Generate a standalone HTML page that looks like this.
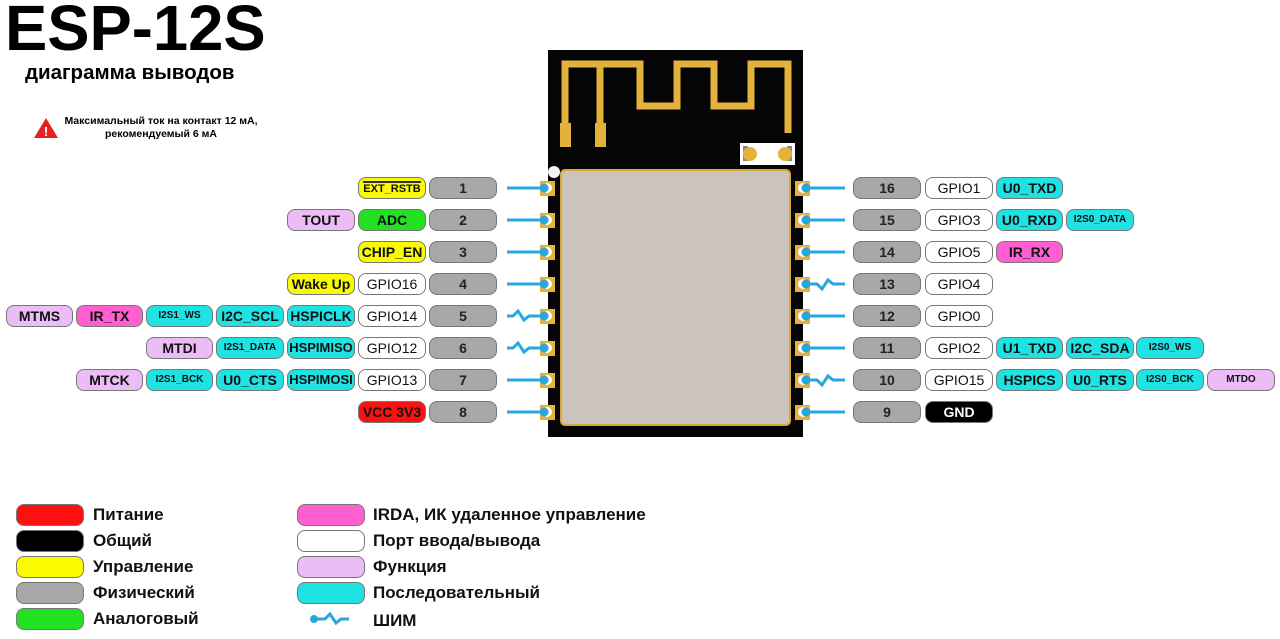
<!DOCTYPE html>
<html><head><meta charset="utf-8"><style>
body{margin:0;width:1280px;height:639px;background:#fff;position:relative;overflow:hidden;font-family:"Liberation Sans",sans-serif;}
.p{position:absolute;height:22px;border:1px solid #777;border-radius:8px;box-sizing:border-box;text-align:center;font-weight:bold;font-size:14px;line-height:20px;color:#111;white-space:nowrap;overflow:hidden;}
.g{background:#a8a8a8;color:#222}
.w{background:#fff}
.y{background:#fafa00}
.gr{background:#22e022}
.r{background:#ff1010}
.k{background:#000;color:#fff}
.c{background:#1fe3e3}
.m{background:#ff5fd0}
.l{background:#ebbcf5}
.s{font-size:10px}
.lt{position:absolute;font-weight:bold;font-size:17px;color:#111;}
</style></head><body>
<div style="position:absolute;left:5px;top:-9px;font-size:64px;font-weight:bold;transform:scaleX(0.99);transform-origin:left">ESP-12S</div>
<div style="position:absolute;left:25px;top:61px;font-size:20.5px;font-weight:bold">диаграмма выводов</div>
<svg style="position:absolute;left:33px;top:117px" width="26" height="22"><polygon points="13,1 25,21 1,21" fill="#e52020"/><text x="13" y="19" font-size="13" font-weight="bold" fill="#fff" text-anchor="middle" font-family="Liberation Sans">!</text></svg>
<div style="position:absolute;left:56px;top:115px;width:210px;text-align:center;font-size:10.5px;font-weight:bold;line-height:13px">Максимальный ток на контакт 12 мА,<br>рекомендуемый 6 мА</div>

<svg style="position:absolute;left:0;top:0" width="1280" height="639">
<rect x="548" y="50" width="255" height="387" fill="#050505"/>
<path d="M565 128 V64 H640 V106 H677 V64 H714 V106 H751 V64 H788 V133" fill="none" stroke="#e3b23a" stroke-width="7"/>
<path d="M600 64 V128" fill="none" stroke="#e3b23a" stroke-width="7"/>
<rect x="560" y="123" width="11" height="24" fill="#e3b23a"/><rect x="595" y="123" width="11" height="24" fill="#e3b23a"/>
<rect x="740" y="143" width="55" height="22" fill="#fff"/>
<rect x="743" y="146" width="5" height="15" fill="#888"/><circle cx="750" cy="154" r="7" fill="#e3b23a"/>
<rect x="787" y="146" width="5" height="15" fill="#888"/><circle cx="785" cy="154" r="7" fill="#e3b23a"/>
<circle cx="554" cy="172" r="6" fill="#f2f2f2"/>
<rect x="561" y="170" width="229" height="255" rx="4" fill="#cbc4bd" stroke="#d9a93a" stroke-width="2"/>
<g fill="#e3b23a">
<rect x="540" y="181" width="15" height="15"/><rect x="540" y="213" width="15" height="15"/><rect x="540" y="245" width="15" height="15"/><rect x="540" y="277" width="15" height="15"/><rect x="540" y="309" width="15" height="15"/><rect x="540" y="341" width="15" height="15"/><rect x="540" y="373" width="15" height="15"/><rect x="540" y="405" width="15" height="15"/>
<rect x="795" y="181" width="15" height="15"/><rect x="795" y="213" width="15" height="15"/><rect x="795" y="245" width="15" height="15"/><rect x="795" y="277" width="15" height="15"/><rect x="795" y="309" width="15" height="15"/><rect x="795" y="341" width="15" height="15"/><rect x="795" y="373" width="15" height="15"/><rect x="795" y="405" width="15" height="15"/>
</g>
<g fill="#fff">
<circle cx="547" cy="188" r="5"/><circle cx="547" cy="220" r="5"/><circle cx="547" cy="252" r="5"/><circle cx="547" cy="284" r="5"/><circle cx="547" cy="316" r="5"/><circle cx="547" cy="348" r="5"/><circle cx="547" cy="380" r="5"/><circle cx="547" cy="412" r="5"/>
<circle cx="803" cy="188" r="5"/><circle cx="803" cy="220" r="5"/><circle cx="803" cy="252" r="5"/><circle cx="803" cy="284" r="5"/><circle cx="803" cy="316" r="5"/><circle cx="803" cy="348" r="5"/><circle cx="803" cy="380" r="5"/><circle cx="803" cy="412" r="5"/>
</g>
<g stroke="#2aa6dc" stroke-width="3" fill="none">
<path d="M507 188H545M507 220H545M507 252H545M507 284H545M507 380H545M507 412H545"/>
<path d="M507 316 h6 l5 -5 l6 9 l5 -4 h16"/><path d="M507 348 h6 l5 -5 l6 9 l5 -4 h16"/>
<path d="M805 188H845M805 220H845M805 252H845M805 316H845M805 348H845M805 412H845"/>
<path d="M805 284 h12 l5 5 l6 -9 l5 4 h12"/><path d="M805 380 h12 l5 5 l6 -9 l5 4 h12"/>
<path d="M313 619 h12 l5 -5 l6 9 l5 -4 h8"/>
</g>
<g fill="#2aa6dc">
<circle cx="544" cy="188" r="4.5"/><circle cx="544" cy="220" r="4.5"/><circle cx="544" cy="252" r="4.5"/><circle cx="544" cy="284" r="4.5"/><circle cx="544" cy="316" r="4.5"/><circle cx="544" cy="348" r="4.5"/><circle cx="544" cy="380" r="4.5"/><circle cx="544" cy="412" r="4.5"/>
<circle cx="806" cy="188" r="4.5"/><circle cx="806" cy="220" r="4.5"/><circle cx="806" cy="252" r="4.5"/><circle cx="806" cy="284" r="4.5"/><circle cx="806" cy="316" r="4.5"/><circle cx="806" cy="348" r="4.5"/><circle cx="806" cy="380" r="4.5"/><circle cx="806" cy="412" r="4.5"/>
<circle cx="314" cy="619" r="4"/>
</g>
</svg>

<div class="p g" style="left:429px;top:177px;width:68px">1</div>
<div class="p g" style="left:429px;top:209px;width:68px">2</div>
<div class="p g" style="left:429px;top:241px;width:68px">3</div>
<div class="p g" style="left:429px;top:273px;width:68px">4</div>
<div class="p g" style="left:429px;top:305px;width:68px">5</div>
<div class="p g" style="left:429px;top:337px;width:68px">6</div>
<div class="p g" style="left:429px;top:369px;width:68px">7</div>
<div class="p g" style="left:429px;top:401px;width:68px">8</div>

<div class="p y s" style="left:358px;top:177px;width:68px;font-size:11px"><span style="border-top:2px solid #333;line-height:12px;display:inline-block;margin-top:3px">EXT_RSTB</span></div>
<div class="p gr" style="left:358px;top:209px;width:68px">ADC</div>
<div class="p y" style="left:358px;top:241px;width:68px">CHIP_EN</div>
<div class="p w" style="left:358px;top:273px;width:68px;font-weight:normal">GPIO16</div>
<div class="p w" style="left:358px;top:305px;width:68px;font-weight:normal">GPIO14</div>
<div class="p w" style="left:358px;top:337px;width:68px;font-weight:normal">GPIO12</div>
<div class="p w" style="left:358px;top:369px;width:68px;font-weight:normal">GPIO13</div>
<div class="p r" style="left:358px;top:401px;width:68px">VCC 3V3</div>

<div class="p l" style="left:287px;top:209px;width:68px">TOUT</div>
<div class="p y" style="left:287px;top:273px;width:68px">Wake Up</div>
<div class="p c" style="left:287px;top:305px;width:68px">HSPICLK</div>
<div class="p c" style="left:287px;top:337px;width:68px;font-size:13px">HSPIMISO</div>
<div class="p c" style="left:287px;top:369px;width:68px;font-size:13px">HSPIMOSI</div>

<div class="p c" style="left:216px;top:305px;width:68px">I2C_SCL</div>
<div class="p c s" style="left:216px;top:337px;width:68px">I2S1_DATA</div>
<div class="p c" style="left:216px;top:369px;width:68px">U0_CTS</div>

<div class="p c s" style="left:146px;top:305px;width:67px">I2S1_WS</div>
<div class="p l" style="left:146px;top:337px;width:67px">MTDI</div>
<div class="p c s" style="left:146px;top:369px;width:67px">I2S1_BCK</div>

<div class="p m" style="left:76px;top:305px;width:67px">IR_TX</div>
<div class="p l" style="left:76px;top:369px;width:67px">MTCK</div>
<div class="p l" style="left:6px;top:305px;width:67px">MTMS</div>

<div class="p g" style="left:853px;top:177px;width:68px">16</div>
<div class="p g" style="left:853px;top:209px;width:68px">15</div>
<div class="p g" style="left:853px;top:241px;width:68px">14</div>
<div class="p g" style="left:853px;top:273px;width:68px">13</div>
<div class="p g" style="left:853px;top:305px;width:68px">12</div>
<div class="p g" style="left:853px;top:337px;width:68px">11</div>
<div class="p g" style="left:853px;top:369px;width:68px">10</div>
<div class="p g" style="left:853px;top:401px;width:68px">9</div>

<div class="p w" style="left:925px;top:177px;width:68px;font-weight:normal">GPIO1</div>
<div class="p w" style="left:925px;top:209px;width:68px;font-weight:normal">GPIO3</div>
<div class="p w" style="left:925px;top:241px;width:68px;font-weight:normal">GPIO5</div>
<div class="p w" style="left:925px;top:273px;width:68px;font-weight:normal">GPIO4</div>
<div class="p w" style="left:925px;top:305px;width:68px;font-weight:normal">GPIO0</div>
<div class="p w" style="left:925px;top:337px;width:68px;font-weight:normal">GPIO2</div>
<div class="p w" style="left:925px;top:369px;width:68px;font-weight:normal">GPIO15</div>
<div class="p k" style="left:925px;top:401px;width:68px">GND</div>

<div class="p c" style="left:996px;top:177px;width:67px">U0_TXD</div>
<div class="p c" style="left:996px;top:209px;width:67px">U0_RXD</div>
<div class="p m" style="left:996px;top:241px;width:67px">IR_RX</div>
<div class="p c" style="left:996px;top:337px;width:67px">U1_TXD</div>
<div class="p c" style="left:996px;top:369px;width:67px">HSPICS</div>

<div class="p c s" style="left:1066px;top:209px;width:68px">I2S0_DATA</div>
<div class="p c" style="left:1066px;top:337px;width:68px">I2C_SDA</div>
<div class="p c" style="left:1066px;top:369px;width:68px">U0_RTS</div>
<div class="p c s" style="left:1136px;top:337px;width:68px">I2S0_WS</div>
<div class="p c s" style="left:1136px;top:369px;width:68px">I2S0_BCK</div>
<div class="p l s" style="left:1207px;top:369px;width:68px">MTDO</div>

<div class="p r" style="left:16px;top:504px;width:68px"></div><div class="lt" style="left:93px;top:505px">Питание</div>
<div class="p k" style="left:16px;top:530px;width:68px"></div><div class="lt" style="left:93px;top:531px">Общий</div>
<div class="p y" style="left:16px;top:556px;width:68px"></div><div class="lt" style="left:93px;top:557px">Управление</div>
<div class="p g" style="left:16px;top:582px;width:68px"></div><div class="lt" style="left:93px;top:583px">Физический</div>
<div class="p gr" style="left:16px;top:608px;width:68px"></div><div class="lt" style="left:93px;top:609px">Аналоговый</div>
<div class="p m" style="left:297px;top:504px;width:68px"></div><div class="lt" style="left:373px;top:505px">IRDA, ИК удаленное управление</div>
<div class="p w" style="left:297px;top:530px;width:68px"></div><div class="lt" style="left:373px;top:531px">Порт ввода/вывода</div>
<div class="p l" style="left:297px;top:556px;width:68px"></div><div class="lt" style="left:373px;top:557px">Функция</div>
<div class="p c" style="left:297px;top:582px;width:68px"></div><div class="lt" style="left:373px;top:583px">Последовательный</div>
<div class="lt" style="left:373px;top:611px">ШИМ</div>
</body></html>
